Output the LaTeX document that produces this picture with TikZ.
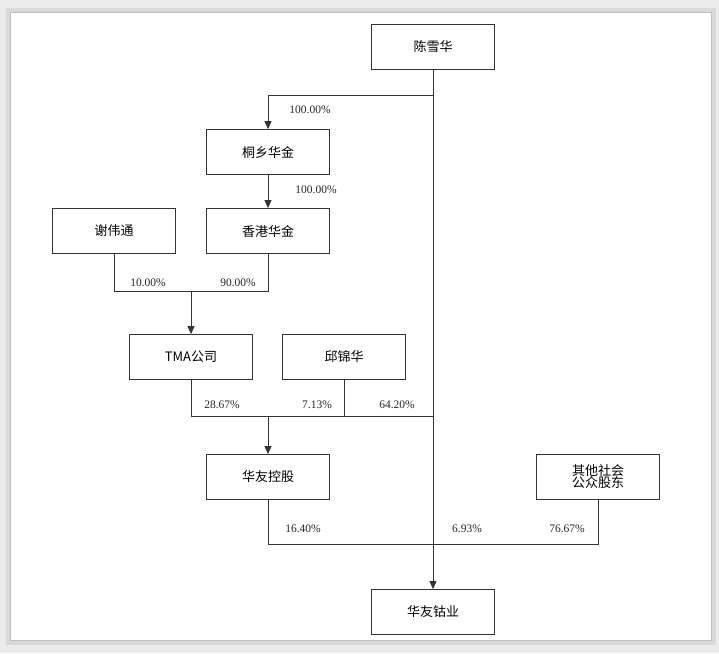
\documentclass[tikz,border=0pt]{standalone}
\usepackage{fontspec}
\setmainfont{Liberation Serif}
\newfontfamily\cjk{Noto Sans CJK SC}
\usetikzlibrary{arrows.meta}
\tikzset{
  box/.style={draw=black!80, line width=0.8pt, minimum width=123pt, minimum height=45pt, inner sep=0pt, font=\cjk\fontsize{13}{15}\selectfont, fill=white, align=center},
  ln/.style={draw=black!80, line width=0.8pt},
  arr/.style={ln, -{Triangle[width=7pt,length=8pt]}},
  pct/.style={font=\fontsize{11.5}{13}\selectfont, inner sep=0pt, text=black!85}
}
\begin{document}
\begin{tikzpicture}[x=1pt,y=-1pt]
\useasboundingbox (0,0) rectangle (719,653);
\fill[black!8] (0,0) rectangle (719,653);
\fill[black!15] (6,8) rectangle (716,645);
\fill[white,draw=black!25] (10,12) rectangle (711,640);
\node[box] (chen) at (433,47) {陈雪华};
\node[box] (tx) at (268,152) {桐乡华金};
\node[box] (hk) at (268,231) {香港华金};
\node[box] (xie) at (114,231) {谢伟通};
\node[box] (tma) at (191,357) {TMA公司};
\node[box] (qiu) at (344,357) {邱锦华};
\node[box] (hykg) at (268,477) {华友控股};
\node[box] (other) at (598,477) {其他社会\\[-3pt]公众股东};
\node[box] (hycy) at (433,612) {华友钴业};
\coordinate (j1) at (433,95);
\coordinate (j2) at (191,291);
\coordinate (j3) at (268,416);
\coordinate (j4) at (433,544);
\draw[arr] (chen.south) -- (hycy.north);
\draw[arr] (j1) -| (tx.north);
\draw[arr] (tx.south) -- (hk.north);
\draw[ln] (xie.south) |- (hk.south |- j2) -- (hk.south);
\draw[arr] (j2) -- (tma.north);
\draw[ln] (tma.south) |- (chen.south |- j3);
\draw[ln] (qiu.south) -- (qiu.south |- j3);
\draw[arr] (j3) -- (hykg.north);
\draw[ln] (hykg.south) |- (other.south |- j4) -- (other.south);
\node[pct] at (148,283) {10.00\%};
\node[pct] at (238,283) {90.00\%};
\node[pct] at (310,110) {100.00\%};
\node[pct] at (316,190) {100.00\%};
\node[pct] at (222,405) {28.67\%};
\node[pct] at (317,405) {7.13\%};
\node[pct] at (397,405) {64.20\%};
\node[pct] at (303,529) {16.40\%};
\node[pct] at (467,529) {6.93\%};
\node[pct] at (567,529) {76.67\%};
\end{tikzpicture}
\end{document}
